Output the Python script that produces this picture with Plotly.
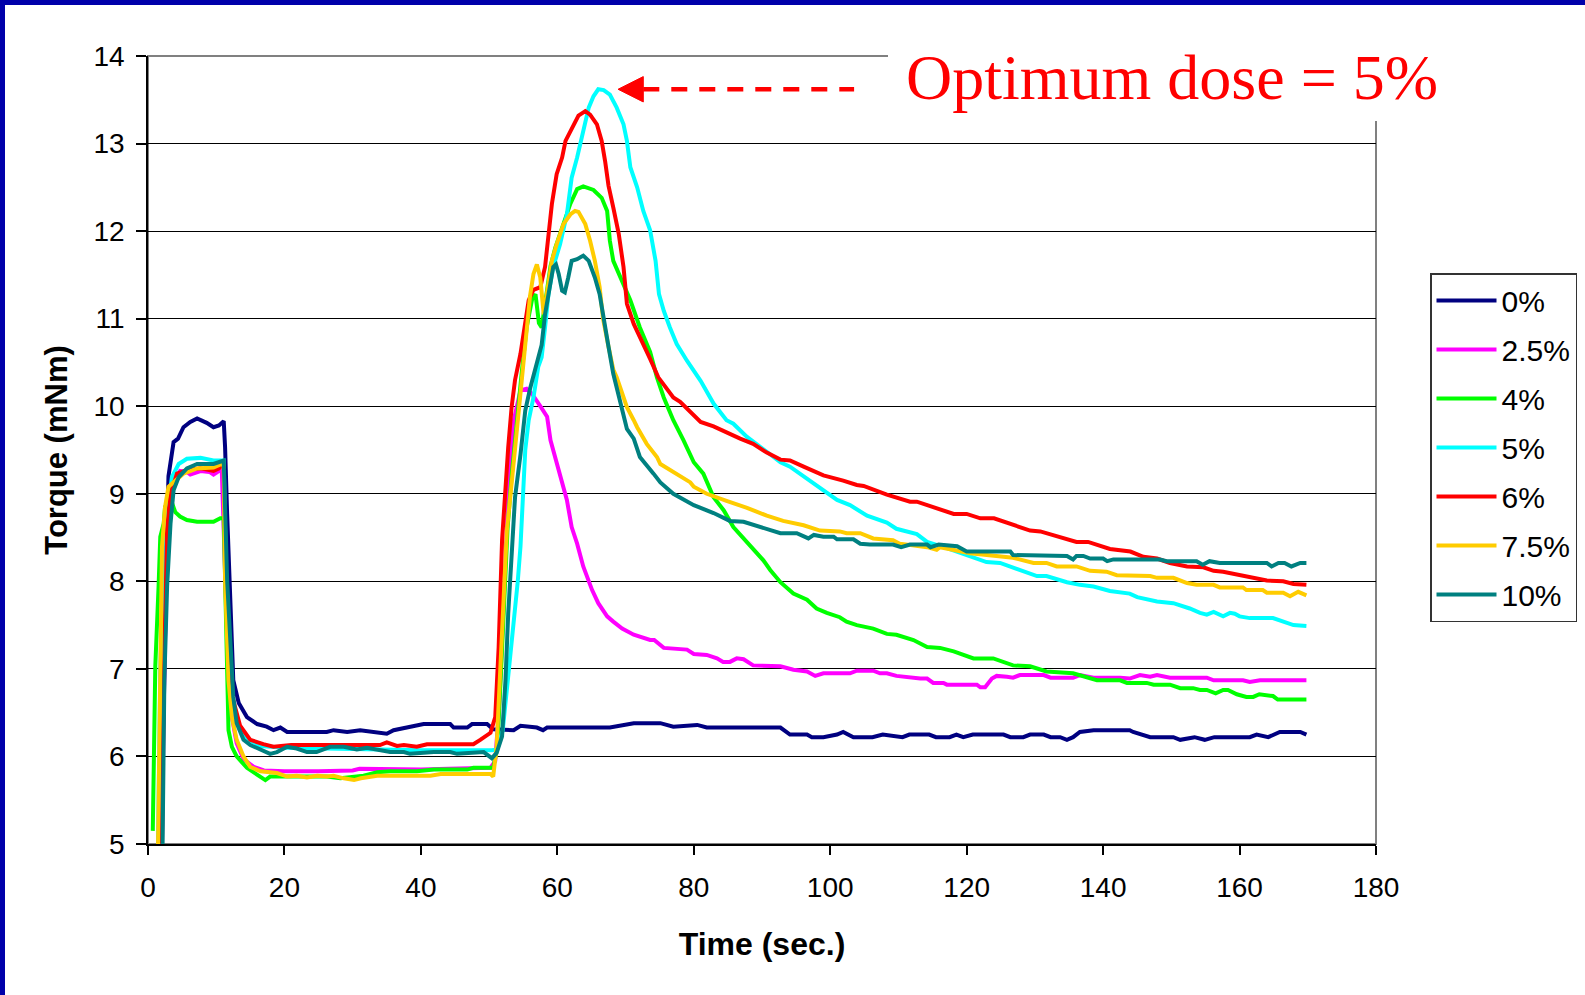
import plotly.graph_objects as go

# ---------------- data (time in s, torque in mNm) ----------------
series_names = ["0%", "2.5%", "4%", "5%", "6%", "7.5%", "10%"]
series_colors = ["#000080", "#FF00FF", "#00FF00", "#00FFFF", "#FF0000", "#FFCC00", "#008080"]

s_0 = [(1.0, 4.0), (2.3, 6.5), (2.7, 8.3), (3.0, 9.2), (3.75, 9.59), (4.4, 9.63), (5.2, 9.76), (6.2, 9.82),
       (7.2, 9.86), (8.6, 9.81), (9.6, 9.76), (10.4, 9.78), (11.1, 9.83), (11.3, 9.53), (11.6, 8.77), (12.1, 7.63),
       (12.5, 6.87), (13.3, 6.61), (14.5, 6.45), (16.0, 6.37), (17.4, 6.34), (18.4, 6.30), (19.4, 6.33), (20.4, 6.28),
       (26.2, 6.28), (27.2, 6.30), (29.2, 6.28), (31.1, 6.30), (34.5, 6.27), (35.0, 6.26), (36.0, 6.30), (37.5, 6.32),
       (40.4, 6.37), (44.3, 6.37), (44.8, 6.33), (46.8, 6.33), (47.5, 6.37), (49.7, 6.37), (50.6, 6.31), (53.6, 6.30),
       (54.6, 6.35), (57.0, 6.33), (57.9, 6.30), (58.5, 6.33), (67.7, 6.33), (71.2, 6.38), (75.1, 6.38), (77.0, 6.34),
       (80.5, 6.36), (81.9, 6.33), (92.7, 6.33), (94.1, 6.25), (96.6, 6.25), (97.3, 6.22), (99.0, 6.22), (101.0, 6.25),
       (101.9, 6.28), (103.4, 6.22), (106.2, 6.22), (107.7, 6.25), (110.6, 6.22), (111.6, 6.25), (114.5, 6.25),
       (115.5, 6.22), (117.5, 6.22), (118.5, 6.25), (119.5, 6.22), (120.9, 6.25), (125.4, 6.25), (126.4, 6.22),
       (128.3, 6.22), (129.3, 6.25), (131.3, 6.25), (132.3, 6.22), (133.7, 6.22), (134.7, 6.19), (135.6, 6.22),
       (136.6, 6.28), (138.6, 6.30), (143.9, 6.30), (144.4, 6.28), (146.9, 6.22), (150.3, 6.22), (151.3, 6.19),
       (153.4, 6.22), (154.9, 6.19), (156.3, 6.22), (161.5, 6.22), (162.5, 6.25), (164.2, 6.22), (165.9, 6.28),
       (168.9, 6.28), (169.8, 6.25)]

s_2_5 = [(1.9, 4.0), (2.3, 6.6), (2.8, 8.5), (3.3, 9.0), (4.25, 9.2), (4.7, 9.26), (5.7, 9.25), (6.2, 9.22),
         (7.7, 9.26), (9.0, 9.25), (9.6, 9.22), (10.4, 9.26), (10.8, 9.30), (11.3, 8.0), (11.8, 6.9), (12.3, 6.45),
         (13.0, 6.15), (14.0, 5.97), (15.5, 5.88), (17.0, 5.84), (20.0, 5.83), (25.0, 5.83), (30.0, 5.84),
         (31.0, 5.86), (37.0, 5.85), (40.0, 5.85), (44.0, 5.86), (47.0, 5.87), (50.2, 5.87), (50.9, 5.95),
         (51.5, 6.6), (52.2, 7.9), (52.8, 9.0), (53.5, 9.8), (54.3, 10.12), (54.6, 10.18), (55.5, 10.2),
         (56.3, 10.14), (57.5, 10.0), (58.5, 9.88), (59.0, 9.61), (59.7, 9.42), (60.2, 9.27), (60.9, 9.08),
         (61.4, 8.93), (62.1, 8.62), (62.9, 8.43), (63.8, 8.17), (65.1, 7.90), (66.0, 7.75), (67.3, 7.60),
         (68.2, 7.54), (69.5, 7.46), (71.2, 7.39), (73.6, 7.33), (74.2, 7.33), (75.6, 7.24), (79.0, 7.22),
         (80.0, 7.17), (81.9, 7.16), (83.4, 7.12), (84.3, 7.08), (85.3, 7.08), (86.3, 7.12), (87.3, 7.11),
         (88.7, 7.04), (92.7, 7.03), (94.6, 6.99), (96.6, 6.97), (97.8, 6.92), (99.0, 6.95), (102.9, 6.95),
         (103.9, 6.98), (106.3, 6.98), (107.3, 6.95), (108.3, 6.95), (109.7, 6.92), (113.2, 6.89), (114.2, 6.89),
         (115.1, 6.84), (116.6, 6.84), (117.1, 6.82), (121.5, 6.82), (122.0, 6.79), (122.7, 6.79), (123.7, 6.89),
         (124.4, 6.92), (125.9, 6.91), (126.8, 6.90), (127.8, 6.93), (131.3, 6.93), (132.3, 6.90), (135.6, 6.90),
         (136.6, 6.93), (138.6, 6.90), (142.5, 6.90), (143.9, 6.89), (145.4, 6.93), (146.9, 6.91), (147.9, 6.93),
         (149.8, 6.90), (155.2, 6.90), (156.2, 6.87), (160.5, 6.87), (161.5, 6.85), (163.0, 6.87), (169.8, 6.87)]

s_4 = [(0.7, 5.15), (1.07, 7.03), (1.55, 7.94), (1.8, 8.51), (2.3, 8.66), (2.5, 8.85), (3.0, 8.88), (3.4, 8.92),
       (4.0, 8.79), (4.7, 8.74), (5.7, 8.70), (7.2, 8.68), (9.6, 8.68), (10.6, 8.72), (11.1, 8.72), (11.3, 8.01),
       (11.6, 7.06), (11.8, 6.30), (12.3, 6.11), (13.0, 6.0), (14.5, 5.87), (16.0, 5.79), (17.2, 5.73),
       (17.9, 5.77), (19.4, 5.77), (20.4, 5.78), (26.2, 5.77), (28.2, 5.75), (30.1, 5.77), (31.6, 5.78),
       (33.6, 5.82), (35.5, 5.83), (39.4, 5.83), (41.9, 5.85), (46.8, 5.85), (47.7, 5.87), (50.6, 5.87),
       (51.2, 6.1), (51.7, 6.9), (52.2, 7.8), (52.7, 8.6), (53.3, 9.2), (54.0, 9.8), (54.8, 10.4), (55.5, 10.9),
       (56.3, 11.22), (56.8, 11.28), (57.3, 10.95), (57.7, 10.9), (58.2, 11.15), (59.0, 11.6), (59.7, 11.81),
       (60.7, 12.04), (61.9, 12.31), (62.9, 12.48), (63.8, 12.51), (65.3, 12.47), (66.5, 12.38), (67.3, 12.23),
       (67.7, 11.89), (68.2, 11.66), (69.2, 11.47), (70.7, 11.21), (72.1, 10.90), (73.6, 10.62), (74.6, 10.33),
       (75.6, 10.10), (77.0, 9.84), (78.0, 9.70), (78.5, 9.61), (80.0, 9.36), (81.4, 9.23), (82.9, 8.96),
       (84.4, 8.81), (85.8, 8.62), (86.8, 8.53), (88.7, 8.36), (90.2, 8.24), (91.2, 8.13), (92.7, 7.99),
       (94.6, 7.86), (96.6, 7.79), (98.0, 7.69), (99.5, 7.64), (101.4, 7.59), (102.4, 7.54), (103.9, 7.50),
       (106.3, 7.46), (108.3, 7.40), (109.7, 7.39), (112.2, 7.33), (114.2, 7.25), (116.1, 7.24), (118.1, 7.20),
       (121.0, 7.12), (123.9, 7.12), (126.8, 7.04), (129.3, 7.03), (131.7, 6.97), (135.6, 6.95), (139.1, 6.87),
       (142.5, 6.87), (143.5, 6.84), (146.4, 6.84), (147.4, 6.82), (149.8, 6.82), (151.3, 6.78), (153.2, 6.78),
       (154.2, 6.76), (155.2, 6.76), (156.5, 6.72), (157.6, 6.76), (158.3, 6.76), (159.6, 6.71), (161.0, 6.68),
       (162.0, 6.68), (162.9, 6.71), (163.9, 6.70), (164.9, 6.69), (165.6, 6.65), (169.8, 6.65)]

s_5 = [(1.3, 4.0), (1.8, 7.0), (2.3, 8.3), (2.8, 8.77), (3.5, 9.19), (4.5, 9.34), (5.7, 9.40), (7.7, 9.41),
       (9.6, 9.38), (10.8, 9.38), (11.1, 9.38), (11.4, 8.2), (11.8, 7.2), (12.3, 6.7), (13.0, 6.4), (14.5, 6.2),
       (16.5, 6.12), (20.0, 6.10), (30.0, 6.08), (40.0, 6.07), (50.4, 6.07), (51.2, 6.08), (52.0, 6.3),
       (52.8, 6.9), (53.6, 7.6), (54.2, 8.0), (54.6, 8.4), (55.0, 9.0), (55.3, 9.5), (55.8, 9.84), (56.5, 10.1),
       (57.2, 10.45), (57.7, 10.56), (58.2, 10.9), (58.7, 11.28), (59.4, 11.59), (60.4, 11.85), (61.4, 12.19),
       (62.1, 12.61), (62.9, 12.84), (63.8, 13.15), (64.6, 13.41), (65.3, 13.54), (66.0, 13.62), (66.8, 13.61),
       (67.7, 13.56), (68.7, 13.41), (69.7, 13.22), (70.2, 13.03), (70.7, 12.73), (71.7, 12.50), (72.6, 12.23),
       (73.6, 12.01), (74.4, 11.66), (74.9, 11.28), (75.6, 11.09), (76.5, 10.90), (77.5, 10.71), (79.0, 10.52),
       (81.0, 10.29), (82.9, 10.03), (84.8, 9.84), (85.8, 9.80), (87.8, 9.65), (90.7, 9.48), (92.7, 9.36),
       (94.1, 9.31), (96.6, 9.17), (98.5, 9.06), (101.0, 8.93), (102.9, 8.87), (105.4, 8.75), (108.3, 8.67),
       (109.7, 8.60), (112.7, 8.54), (114.2, 8.45), (117.1, 8.38), (120.0, 8.30), (122.9, 8.22), (124.9, 8.21),
       (127.8, 8.13), (130.3, 8.06), (131.7, 8.06), (134.7, 7.99), (136.6, 7.96), (138.6, 7.94), (141.0, 7.89),
       (143.9, 7.86), (145.0, 7.82), (147.9, 7.77), (150.3, 7.75), (152.7, 7.69), (154.2, 7.64), (155.2, 7.62),
       (156.2, 7.65), (157.6, 7.60), (158.6, 7.64), (159.3, 7.63), (160.0, 7.60), (161.5, 7.58), (164.9, 7.58),
       (167.9, 7.50), (169.8, 7.49)]

s_6 = [(1.9, 4.0), (2.3, 6.8), (2.8, 8.6), (3.3, 9.0), (4.25, 9.23), (5.7, 9.27), (7.7, 9.29), (9.6, 9.26),
       (10.4, 9.29), (10.8, 9.33), (11.1, 9.30), (11.4, 8.1), (11.8, 7.1), (12.3, 6.7), (13.5, 6.35), (15.0, 6.19),
       (16.9, 6.14), (18.4, 6.11), (21.0, 6.13), (34.0, 6.13), (35.0, 6.16), (36.5, 6.12), (37.5, 6.13),
       (39.4, 6.11), (40.9, 6.14), (47.7, 6.14), (48.7, 6.19), (50.2, 6.27), (50.9, 6.45), (51.4, 7.25),
       (51.9, 8.47), (52.4, 9.08), (52.8, 9.53), (53.3, 9.99), (53.8, 10.3), (54.6, 10.60), (55.3, 10.94),
       (55.8, 11.21), (56.5, 11.33), (57.5, 11.36), (58.2, 11.59), (58.7, 11.93), (59.2, 12.31), (59.9, 12.65),
       (60.7, 12.84), (61.2, 13.03), (62.1, 13.18), (63.1, 13.32), (64.1, 13.37), (64.8, 13.33), (65.8, 13.22),
       (66.5, 13.03), (67.0, 12.80), (67.5, 12.52), (68.2, 12.27), (69.0, 11.97), (69.7, 11.59), (70.2, 11.17),
       (71.2, 10.94), (72.1, 10.78), (73.6, 10.54), (74.8, 10.33), (77.0, 10.10), (78.0, 10.05), (79.5, 9.93),
       (81.0, 9.82), (82.9, 9.77), (85.3, 9.68), (86.8, 9.63), (88.7, 9.57), (90.7, 9.47), (92.7, 9.39),
       (94.1, 9.38), (96.1, 9.31), (99.0, 9.21), (101.9, 9.15), (103.9, 9.10), (104.9, 9.09), (108.3, 8.99),
       (111.7, 8.91), (112.7, 8.91), (118.1, 8.77), (120.0, 8.77), (122.0, 8.72), (124.0, 8.72), (129.3, 8.58),
       (130.8, 8.57), (136.1, 8.45), (137.8, 8.45), (141.0, 8.37), (142.5, 8.36), (144.0, 8.34), (145.9, 8.28),
       (147.9, 8.26), (149.8, 8.21), (152.3, 8.17), (154.7, 8.16), (156.2, 8.12), (157.6, 8.11), (159.6, 8.08),
       (161.5, 8.05), (164.0, 8.01), (166.4, 8.00), (167.9, 7.97), (169.8, 7.96)]

s_7_5 = [(1.3, 4.0), (1.7, 6.87), (2.05, 8.39), (2.5, 8.85), (3.0, 9.08), (4.0, 9.15), (5.2, 9.23), (7.2, 9.29),
         (9.6, 9.30), (10.8, 9.34), (11.1, 9.32), (11.3, 8.01), (11.8, 6.87), (12.3, 6.45), (13.0, 6.19),
         (14.0, 6.0), (15.0, 5.88), (16.5, 5.83), (18.9, 5.81), (20.4, 5.77), (21.8, 5.78), (23.3, 5.76),
         (24.8, 5.78), (26.2, 5.77), (27.2, 5.78), (28.7, 5.75), (30.2, 5.73), (31.2, 5.75), (33.6, 5.78),
         (41.4, 5.78), (42.9, 5.80), (50.2, 5.80), (50.6, 5.77), (51.1, 6.11), (51.6, 6.87), (52.1, 7.63),
         (52.6, 8.58), (53.1, 8.96), (53.8, 9.53), (54.6, 10.10), (55.3, 10.68), (56.0, 11.26), (56.5, 11.51),
         (57.0, 11.62), (57.5, 11.47), (58.0, 11.05), (58.5, 11.3), (59.2, 11.66), (59.9, 11.85), (60.9, 12.08),
         (61.9, 12.19), (62.6, 12.23), (63.1, 12.22), (64.1, 12.08), (64.8, 11.89), (65.5, 11.66), (66.2, 11.36),
         (66.7, 11.0), (67.5, 10.68), (68.2, 10.42), (68.7, 10.33), (69.2, 10.22), (69.7, 10.10), (70.2, 9.99),
         (71.2, 9.84), (71.7, 9.76), (73.1, 9.57), (74.6, 9.42), (75.1, 9.34), (77.0, 9.25), (78.0, 9.21),
         (79.5, 9.13), (80.0, 9.08), (81.9, 9.00), (84.8, 8.92), (87.8, 8.84), (90.7, 8.75), (93.1, 8.69),
         (96.1, 8.64), (98.5, 8.58), (101.4, 8.57), (102.4, 8.55), (104.4, 8.55), (106.3, 8.49), (109.2, 8.47),
         (110.2, 8.43), (114.2, 8.39), (115.6, 8.36), (116.1, 8.39), (118.1, 8.36), (120.5, 8.32), (125.4, 8.28),
         (126.8, 8.27), (129.8, 8.21), (131.7, 8.21), (133.2, 8.17), (136.1, 8.17), (138.1, 8.12), (140.5, 8.11),
         (142.0, 8.07), (146.9, 8.06), (147.9, 8.04), (150.3, 8.04), (152.3, 7.98), (153.7, 7.96), (156.2, 7.96),
         (157.1, 7.93), (160.5, 7.93), (161.0, 7.90), (163.4, 7.90), (164.0, 7.87), (166.4, 7.87), (167.4, 7.83),
         (168.6, 7.88), (169.8, 7.84)]

s_10 = [(2.0, 4.0), (2.4, 6.87), (2.8, 7.94), (3.3, 8.66), (3.75, 9.04), (4.5, 9.19), (5.7, 9.29), (7.2, 9.34),
        (9.6, 9.34), (11.1, 9.38), (11.6, 8.01), (12.1, 7.25), (12.5, 6.68), (13.0, 6.38), (14.0, 6.19),
        (15.0, 6.13), (16.5, 6.08), (17.9, 6.03), (18.9, 6.05), (20.4, 6.11), (21.8, 6.09), (23.3, 6.05),
        (24.7, 6.05), (26.7, 6.11), (28.7, 6.11), (30.6, 6.08), (32.1, 6.10), (33.6, 6.08), (35.5, 6.05),
        (37.5, 6.05), (38.4, 6.03), (41.9, 6.05), (44.3, 6.05), (45.3, 6.03), (49.2, 6.05), (50.4, 5.98),
        (51.1, 6.04), (51.9, 6.23), (52.4, 6.87), (52.8, 7.63), (53.3, 8.39), (53.8, 8.96), (54.6, 9.45),
        (55.3, 9.95), (56.0, 10.2), (57.0, 10.5), (57.7, 10.7), (58.2, 11.05), (58.7, 11.28), (59.4, 11.59),
        (59.8, 11.62), (60.2, 11.51), (60.7, 11.32), (61.1, 11.30), (61.6, 11.47), (62.1, 11.66), (62.9, 11.68),
        (63.8, 11.72), (64.6, 11.66), (65.5, 11.47), (66.2, 11.28), (66.7, 11.02), (67.5, 10.68), (68.2, 10.37),
        (69.1, 10.07), (69.9, 9.84), (70.2, 9.74), (71.2, 9.63), (72.1, 9.42), (74.1, 9.23), (75.1, 9.13),
        (77.0, 9.00), (78.0, 8.96), (80.0, 8.87), (82.9, 8.78), (85.3, 8.69), (87.3, 8.68), (89.7, 8.62),
        (92.7, 8.55), (95.1, 8.55), (96.8, 8.49), (97.6, 8.53), (99.0, 8.51), (100.5, 8.51), (101.0, 8.48),
        (103.4, 8.48), (104.4, 8.43), (105.8, 8.42), (109.2, 8.42), (110.4, 8.39), (111.7, 8.42), (114.2, 8.42),
        (114.7, 8.39), (115.9, 8.42), (118.6, 8.40), (120.0, 8.34), (126.4, 8.34), (126.8, 8.30), (129.3, 8.30),
        (129.8, 8.29), (134.7, 8.29), (135.6, 8.25), (136.1, 8.29), (137.1, 8.29), (138.1, 8.26), (140.0, 8.26),
        (140.6, 8.23), (141.5, 8.25), (148.3, 8.25), (149.3, 8.23), (153.7, 8.23), (154.6, 8.19), (155.6, 8.23),
        (157.1, 8.21), (164.0, 8.21), (164.7, 8.17), (165.7, 8.21), (166.6, 8.21), (167.6, 8.17), (168.9, 8.21),
        (169.8, 8.21)]

series_data = [s_0, s_2_5, s_4, s_5, s_6, s_7_5, s_10]

x_ticks = [0, 20, 40, 60, 80, 100, 120, 140, 160, 180]
y_ticks = [5, 6, 7, 8, 9, 10, 11, 12, 13, 14]
x_title = "Time (sec.)"
y_title = "Torque (mNm)"
note_text = "Optimum dose = 5%"
optimum_series = "5%"

# ---------------- layout geometry ----------------
W, H = 1585, 995
ML, MR, MT, MB = 148, 209, 56, 151
PW, PH = W - ML - MR, H - MT - MB


def xp(px):
    return (px - ML) / PW


def yp(py):
    return (H - MB - py) / PH


FONT = "Liberation Sans, Arial, sans-serif"

fig = go.Figure()
for name, color, pts in zip(series_names, series_colors, series_data):
    xs = [p[0] for p in pts]
    ys = [p[1] for p in pts]
    fig.add_trace(go.Scatter(x=xs, y=ys, mode="lines", name=name, legendgroup=name,
                             line=dict(color=color, width=4)))

# arrow pointing at the peak of the optimum series
opt = series_data[series_names.index(optimum_series)]
peak_x, peak_y = max(opt, key=lambda p: p[1])
tip_x = peak_x + 2.9
head_len = 3.7
head_half = 0.145
dash_end_x = 103.5

shapes = [
    # plot frame (grey)
    dict(type="rect", xref="paper", yref="paper", x0=0, x1=1, y0=0, y1=1,
         line=dict(color="#808080", width=2), fillcolor="rgba(0,0,0,0)", layer="below"),
    # dashed arrow shaft
    dict(type="line", xref="x", yref="y", x0=tip_x + head_len, x1=dash_end_x, y0=peak_y, y1=peak_y,
         line=dict(color="#FF0000", width=4.5, dash="16px,12px"), layer="above"),
    # arrow head
    dict(type="path", xref="x", yref="y",
         path=f"M {tip_x},{peak_y} L {tip_x + head_len},{peak_y + head_half} L {tip_x + head_len},{peak_y - head_half} Z",
         fillcolor="#FF0000", line=dict(color="#FF0000", width=1), layer="above"),
    # white box behind the note (covers frame corner)
    dict(type="rect", xref="paper", yref="paper", x0=xp(888), x1=xp(W + 5), y0=yp(121), y1=yp(5),
         fillcolor="white", line=dict(width=0), layer="above"),
    # blue slide frame: top and left
    dict(type="rect", xref="paper", yref="paper", x0=xp(-5), x1=xp(W + 5), y0=yp(5), y1=yp(-5),
         fillcolor="#0000AA", line=dict(width=0), layer="above"),
    dict(type="rect", xref="paper", yref="paper", x0=xp(-5), x1=xp(5), y0=yp(H + 5), y1=yp(-5),
         fillcolor="#0000AA", line=dict(width=0), layer="above"),
]

annotations = [
    dict(text=note_text, xref="paper", yref="paper", x=xp(904), y=yp(77), xanchor="left", yanchor="middle",
         showarrow=False, font=dict(family="Liberation Serif, Times New Roman, serif", size=64, color="#FF0000")),
]

fig.update_layout(
    width=W, height=H,
    margin=dict(l=ML, r=MR, t=MT, b=MB, autoexpand=False),
    paper_bgcolor="white", plot_bgcolor="rgba(0,0,0,0)",
    font=dict(family=FONT, size=28, color="black"),
    shapes=shapes, annotations=annotations,
    showlegend=True,
    legend=dict(x=xp(1430), y=yp(273), xanchor="left", yanchor="top",
                bgcolor="white", bordercolor="#333333", borderwidth=1.5,
                font=dict(family=FONT, size=30, color="black"),
                tracegroupgap=7, traceorder="grouped", itemwidth=60),
    xaxis=dict(range=[0, 180], tickvals=x_ticks, ticks="outside", ticklen=9, tickwidth=1.5, tickcolor="black",
               showline=True, linecolor="black", linewidth=1.5, showgrid=False, zeroline=False,
               automargin=False, ticklabelstandoff=9, tickfont=dict(family=FONT, size=28, color="black"),
               title=dict(text=x_title, standoff=30,
                          font=dict(family=FONT, size=32, color="black", weight="bold"))),
    yaxis=dict(range=[5, 14], tickvals=y_ticks, ticks="outside", ticklen=10, tickwidth=1.5, tickcolor="black",
               showline=True, linecolor="black", linewidth=1.5, showgrid=True, gridcolor="#000000", gridwidth=1,
               zeroline=False, automargin=False, ticklabelstandoff=6,
               tickfont=dict(family=FONT, size=28, color="black"),
               title=dict(text=y_title, standoff=17,
                          font=dict(family=FONT, size=31, color="black", weight="bold"))),
)

fig.write_html("out.html", config={"displayModeBar": False},
               post_script="document.body.style.margin='0';")
